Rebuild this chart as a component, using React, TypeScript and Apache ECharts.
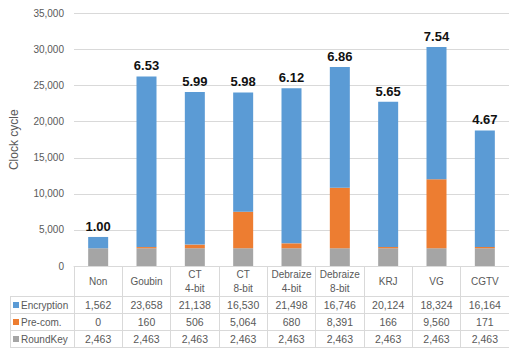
import React, { useEffect, useRef } from "react";
import * as echarts from "echarts";

const categories = ["Non", "Goubin", "CT\n4-bit", "CT\n8-bit", "Debraize\n4-bit", "Debraize\n8-bit", "KRJ", "VG", "CGTV"];
const encryption = [1562, 23658, 21138, 16530, 21498, 16746, 20124, 18324, 16164];
const precom = [0, 160, 506, 5064, 680, 8391, 166, 9560, 171];
const roundKey = [2463, 2463, 2463, 2463, 2463, 2463, 2463, 2463, 2463];
const ratioLabels = ["1.00", "6.53", "5.99", "5.98", "6.12", "6.86", "5.65", "7.54", "4.67"];
const seriesNames = ["Encryption", "Pre-com.", "RoundKey"];
const seriesColors = ["#5B9BD5", "#ED7D31", "#A5A5A5"];
const yMax = 35000;
const yInterval = 5000;

const FONT = "Liberation Sans, Arial, sans-serif";
const GRID_TOP = 13.5;
const AXIS_Y = 266;
const ROW_LINES = [296, 313, 330, 347];
const LINE_COLOR = "#D9D9D9";
const TEXT_COLOR = "#595959";

const fmt = (v: number) => v.toLocaleString("en-US");

export default function App() {
  const ref = useRef<HTMLDivElement>(null);
  useEffect(() => {
    if (!ref.current) return;
    const chart = echarts.init(ref.current, undefined, { renderer: "svg" });
    const rows = [encryption, precom, roundKey];

    const tableAxes = rows.map((vals, i) => ({
      type: "category" as const,
      position: "bottom" as const,
      gridIndex: 0,
      offset: ROW_LINES[i] - AXIS_Y,
      data: vals.map(fmt),
      axisLine: { show: false },
      axisTick: { show: false },
      axisLabel: {
        interval: 0,
        margin: 8.5,
        verticalAlign: "middle",
        fontFamily: FONT,
        fontSize: 10.5,
        color: TEXT_COLOR,
      },
    }));

    const graphic: any[] = [];
    ROW_LINES.forEach((y) => {
      graphic.push({
        type: "line",
        shape: { x1: 10, y1: y + 0.5, x2: 520, y2: y + 0.5 },
        style: { stroke: LINE_COLOR, lineWidth: 1 },
        silent: true,
      });
    });
    graphic.push({
      type: "line",
      shape: { x1: 10.5, y1: ROW_LINES[0], x2: 10.5, y2: ROW_LINES[3] + 1 },
      style: { stroke: LINE_COLOR, lineWidth: 1 },
      silent: true,
    });
    seriesNames.forEach((name, i) => {
      const mid = (ROW_LINES[i] + ROW_LINES[i + 1]) / 2 + 0.5;
      graphic.push({
        type: "rect",
        shape: { x: 13, y: mid - 3, width: 6, height: 6 },
        style: { fill: seriesColors[i] },
        silent: true,
      });
      graphic.push({
        type: "text",
        x: 21,
        y: mid,
        style: {
          text: name,
          fontFamily: FONT,
          fontSize: 10,
          fill: TEXT_COLOR,
          verticalAlign: "middle",
          align: "left",
        },
        silent: true,
      });
    });

    chart.setOption({
      animation: false,
      backgroundColor: "#ffffff",
      grid: { left: 73, right: -6, top: GRID_TOP, bottom: 349 - AXIS_Y },
      xAxis: [
        {
          type: "category",
          position: "bottom",
          data: categories,
          axisLine: { show: true, lineStyle: { color: LINE_COLOR } },
          axisTick: { show: true, length: ROW_LINES[3] - AXIS_Y + 1, interval: 0, lineStyle: { color: LINE_COLOR } },
          axisLabel: {
            interval: 0,
            margin: 15,
            verticalAlign: "middle",
            lineHeight: 14,
            fontFamily: FONT,
            fontSize: 10,
            color: TEXT_COLOR,
          },
        },
        ...tableAxes,
      ],
      yAxis: {
        type: "value",
        min: 0,
        max: yMax,
        interval: yInterval,
        name: "Clock cycle",
        nameLocation: "middle",
        nameGap: 54,
        nameTextStyle: { fontFamily: FONT, fontSize: 12, color: TEXT_COLOR },
        axisLine: { show: false },
        axisTick: { show: false },
        splitLine: { lineStyle: { color: LINE_COLOR } },
        axisLabel: {
          margin: 10,
          fontFamily: FONT,
          fontSize: 10,
          color: TEXT_COLOR,
          formatter: (v: number) => fmt(v),
        },
      },
      series: [
        {
          name: seriesNames[2],
          type: "bar",
          stack: "total",
          barWidth: 20,
          data: roundKey,
          itemStyle: { color: seriesColors[2] },
        },
        {
          name: seriesNames[1],
          type: "bar",
          stack: "total",
          barWidth: 20,
          data: precom,
          itemStyle: { color: seriesColors[1] },
        },
        {
          name: seriesNames[0],
          type: "bar",
          stack: "total",
          barWidth: 20,
          data: encryption,
          itemStyle: { color: seriesColors[0] },
          label: {
            show: true,
            position: "top",
            distance: 4,
            formatter: (p: any) => ratioLabels[p.dataIndex],
            fontFamily: FONT,
            fontSize: 13,
            fontWeight: "bold",
            color: "#111111",
          },
        },
      ],
      graphic,
    });
    return () => chart.dispose();
  }, []);

  return (
    <div
      ref={ref}
      style={{ position: "fixed", left: 0, top: 0, width: 509, height: 349, background: "#fff" }}
    />
  );
}
